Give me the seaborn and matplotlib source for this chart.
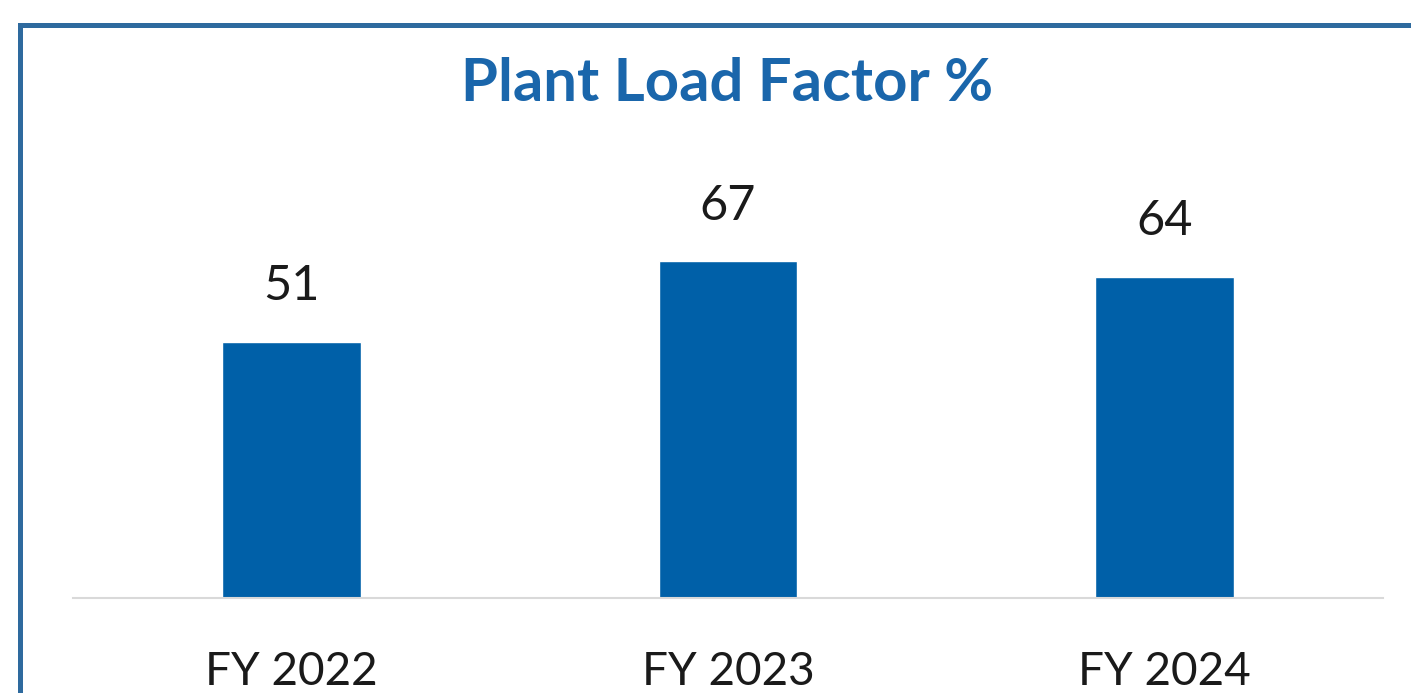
import seaborn as sns
import matplotlib.pyplot as plt
import matplotlib.patches as mpatches
import pandas as pd

# chart data
years = ["FY 2022", "FY 2023", "FY 2024"]
plf = [51, 67, 64]

BAR_COLOR = "#0060a8"
TITLE_COLOR = "#1a66ab"
BORDER_COLOR = "#2e6a9e"

df = pd.DataFrame({"year": years, "plf": plf})

sns.set_style("white")
plt.rcParams["font.family"] = ["Lato", "DejaVu Sans"]

W, H = 1411, 693
fig = plt.figure(figsize=(W / 100, H / 100), dpi=100)
ax = fig.add_axes([73 / W, 95 / H, 1310 / W, 448 / H])

sns.barplot(data=df, x="year", y="plf", color=BAR_COLOR, width=0.317,
            saturation=1, ax=ax)

ax.set_xlim(-0.5, 2.5)
ax.set_ylim(0, 89.2)

for bar, v in zip(ax.patches, plf):
    ax.annotate(f"{v}", (bar.get_x() + bar.get_width() / 2, bar.get_height()),
                xytext=(0, 30), textcoords="offset points",
                ha="center", va="baseline", fontsize=35, color="#1a1a1a")

sns.despine(ax=ax, left=True, top=True, right=True)
ax.spines["bottom"].set_color("#d9d9d9")
ax.spines["bottom"].set_linewidth(1.5)
ax.set_yticks([])
ax.set_xlabel("")
ax.set_ylabel("")
ax.tick_params(axis="x", length=0, pad=38, labelsize=33, labelcolor="#1a1a1a")

fig.text(727 / W, 1 - 84 / H, "Plant Load Factor %", ha="center", va="center",
         fontsize=43, fontweight="bold", color=TITLE_COLOR)

# outer frame, cut off at right and bottom
frame = mpatches.Rectangle((19.5 / W, -0.1), 1.2, (H - 24.5) / H + 0.1,
                           transform=fig.transFigure, fill=False,
                           edgecolor=BORDER_COLOR, linewidth=3.6, clip_on=False)
fig.add_artist(frame)

fig.savefig("out.png", dpi=100)
